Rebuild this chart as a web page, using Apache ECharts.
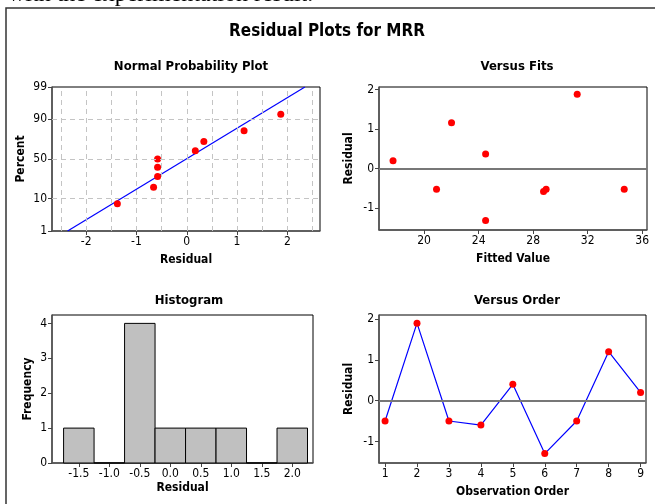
<!DOCTYPE html>
<html><head><meta charset="utf-8">
<script src="https://cdn.jsdelivr.net/npm/echarts@6/dist/echarts.min.js"></script>
<style>html,body{margin:0;padding:0;background:#fff;overflow:hidden}#c{width:655px;height:504px}</style>
</head><body><div id="c"></div>
<script>
// ---- Normal probability plot ----
const probResiduals = [-1.38, -0.66, -0.58, -0.58, -0.58, 0.17, 0.34, 1.14, 1.87];
const probPercents  = [7.4, 18.1, 28.7, 39.4, 50, 60.6, 71.3, 81.9, 92.6];
const fitLineResidual = [-2.37, 2.35];
const fitLinePercent  = [1, 99];
const percentTicks = [1, 10, 50, 90, 99];
const probXTicks = [-2, -1, 0, 1, 2];
const probXGrid = [-2.5, -2, -1.5, -1, -0.5, 0, 0.5, 1, 1.5, 2, 2.5];
const probYGrid = [10, 50, 90];

// ---- Versus fits ----
const fittedValues = [17.72, 20.91, 22.01, 24.51, 24.51, 28.76, 28.95, 31.23, 34.68];
const fitResiduals = [0.2, -0.52, 1.16, 0.37, -1.31, -0.58, -0.52, 1.88, -0.52];
const fitXTicks = [20, 24, 28, 32, 36];
const residTicks = [-1, 0, 1, 2];

// ---- Histogram ----
const histCenters = [-1.5, -1.0, -0.5, 0.0, 0.5, 1.0, 1.5, 2.0];
const histCounts  = [1, 0, 4, 1, 1, 1, 0, 1];
const histBinWidth = 0.5;
const histTicks = [-1.5, -1.0, -0.5, 0.0, 0.5, 1.0, 1.5, 2.0];
const freqTicks = [0, 1, 2, 3, 4];

// ---- Versus order ----
const orderIndex = [1, 2, 3, 4, 5, 6, 7, 8, 9];
const orderResiduals = [-0.5, 1.9, -0.5, -0.6, 0.4, -1.3, -0.5, 1.2, 0.2];

// inverse standard normal (probability-axis scale)
function probit(p) {
  const a=[-39.6968302866538,220.946098424521,-275.928510446969,138.357751867269,-30.6647980661472,2.50662827745924];
  const b=[-54.4760987982241,161.585836858041,-155.698979859887,66.8013118877197,-13.2806815528857];
  const c=[-0.00778489400243029,-0.322396458041136,-2.40075827716184,-2.54973253934373,4.37466414146497,2.93816398269878];
  const d=[0.00778469570904146,0.32246712907004,2.445134137143,3.75440866190742];
  const pl=0.02425;
  let q,r;
  if (p<pl){q=Math.sqrt(-2*Math.log(p));return (((((c[0]*q+c[1])*q+c[2])*q+c[3])*q+c[4])*q+c[5])/((((d[0]*q+d[1])*q+d[2])*q+d[3])*q+1);}
  if (p>1-pl){q=Math.sqrt(-2*Math.log(1-p));return -(((((c[0]*q+c[1])*q+c[2])*q+c[3])*q+c[4])*q+c[5])/((((d[0]*q+d[1])*q+d[2])*q+d[3])*q+1);}
  q=p-0.5;r=q*q;
  return (((((a[0]*r+a[1])*r+a[2])*r+a[3])*r+a[4])*r+a[5])*q/(((((b[0]*r+b[1])*r+b[2])*r+b[3])*r+b[4])*r+1);
}
const pz = v => probit(v/100);

const FONT = '"DejaVu Sans Condensed","Liberation Sans Narrow","DejaVu Sans",sans-serif';
const BOLD = '"DejaVu Sans Condensed","Liberation Sans Narrow","DejaVu Sans",sans-serif';
const lbl = (vals, fmt) => ({customValues: vals, color:'#000', fontSize:12, fontFamily:FONT, margin:5, formatter: fmt});
const tick = vals => ({show:true, customValues: vals, inside:false, length:4, lineStyle:{color:'#444', width:1}});
const axLine = {show:true, onZero:false, lineStyle:{color:'#555', width:1.5}};
const nameStyle = {color:'#000', fontSize:12, fontWeight:'bold', fontFamily:BOLD};
const gridDash = {type:[5,4], color:'#c4c4c4', width:1};
const dot = {color:'#ff0000', opacity:1};

function valAxis(gi, min, max, ticks, name, gap, fmt) {
  return {type:'value', gridIndex:gi, min:min, max:max, axisLine:axLine,
    axisTick:tick(ticks), axisLabel:lbl(ticks, fmt), splitLine:{show:false},
    name:name, nameLocation:'middle', nameGap:gap, nameTextStyle:nameStyle};
}

const zMin = pz(fitLinePercent[0]) , zMax = pz(fitLinePercent[1]);

const option = {
  animation:false,
  backgroundColor:'#fff',
  graphic:[
    {type:'rect', shape:{x:6, y:8, width:670, height:520}, style:{fill:null, stroke:'#333', lineWidth:1.5}, silent:true},
    {type:'text', x:8, y:7, style:{text:'with the experimentation result.', font:'24px "Liberation Serif", serif', fill:'#000', textVerticalAlign:'bottom'}},
    {type:'text', x:327, y:31, scaleX:0.94, style:{text:'Residual Plots for MRR', font:'bold 18px ' + BOLD, fill:'#000', textAlign:'center', textVerticalAlign:'middle'}}
  ],
  title:[
    {text:'Normal Probability Plot', left:186, textAlign:'center', top:55, textStyle:{fontSize:13, fontWeight:'bold', fontFamily:BOLD, color:'#000'}},
    {text:'Versus Fits', left:512, textAlign:'center', top:55, textStyle:{fontSize:13, fontWeight:'bold', fontFamily:BOLD, color:'#000'}},
    {text:'Histogram', left:184, textAlign:'center', top:289, textStyle:{fontSize:13, fontWeight:'bold', fontFamily:BOLD, color:'#000'}},
    {text:'Versus Order', left:512, textAlign:'center', top:289, textStyle:{fontSize:13, fontWeight:'bold', fontFamily:BOLD, color:'#000'}}
  ],
  grid:[
    {left:52, top:87, width:268, height:144, show:true, borderColor:'#000', borderWidth:1},
    {left:379, top:87, width:268, height:143, show:true, borderColor:'#000', borderWidth:1},
    {left:52, top:315, width:261, height:148, show:true, borderColor:'#000', borderWidth:1},
    {left:379, top:315, width:267, height:148, show:true, borderColor:'#000', borderWidth:1}
  ],
  xAxis:[
    valAxis(0, -2.68, 2.65, probXTicks, 'Residual', 23, v => String(v)),
    valAxis(1, 16.69, 36.35, fitXTicks, 'Fitted Value', 23, v => String(v)),
    valAxis(2, -1.94, 2.34, histTicks, 'Residual', 19, v => v.toFixed(1)),
    valAxis(3, 0.81, 9.17, orderIndex, 'Observation Order', 23, v => String(v))
  ],
  yAxis:[
    valAxis(0, zMin, zMax, percentTicks.map(pz), 'Percent', 25, v => {
      let best = percentTicks[0], bd = 1e9;
      percentTicks.forEach(p => { const d = Math.abs(pz(p) - v); if (d < bd) { bd = d; best = p; } });
      return String(best);
    }),
    valAxis(1, -1.55, 2.06, residTicks, 'Residual', 24, v => String(v)),
    valAxis(2, 0, 4.24, freqTicks, 'Frequency', 18, v => String(v)),
    valAxis(3, -1.53, 2.1, residTicks, 'Residual', 24, v => String(v))
  ],
  series:[
    {type:'line', xAxisIndex:0, yAxisIndex:0, z:1, symbol:'none', silent:true,
      data: fitLineResidual.map((x,i)=>[x, pz(fitLinePercent[i])]),
      lineStyle:{color:'#0000ff', width:1.2},
      markLine:{silent:true, symbol:['none','none'], label:{show:false}, lineStyle:gridDash, animation:false,
        data: probXGrid.map(v=>({xAxis:v})).concat(probYGrid.map(p=>({yAxis:pz(p)})))}
    },
    {type:'scatter', xAxisIndex:0, yAxisIndex:0, z:3, symbol:'circle', symbolSize:7,
      itemStyle:dot, data: probResiduals.map((x,i)=>[x, pz(probPercents[i])])},
    {type:'scatter', xAxisIndex:1, yAxisIndex:1, z:3, symbol:'circle', symbolSize:7,
      itemStyle:dot, data: fittedValues.map((x,i)=>[x, fitResiduals[i]]),
      markLine:{silent:true, symbol:['none','none'], label:{show:false}, lineStyle:{type:'solid', color:'#777', width:2}, data:[{yAxis:0}]}
    },
    {type:'custom', xAxisIndex:2, yAxisIndex:2, z:2,
      data: histCenters.map((c,i)=>[c, histCounts[i]]),
      renderItem:(params, api)=>{
        const c = api.value(0), n = api.value(1);
        const p0 = api.coord([c - histBinWidth/2, n]);
        const p1 = api.coord([c + histBinWidth/2, 0]);
        return {type:'rect', shape:{x:p0[0], y:p0[1], width:p1[0]-p0[0], height:p1[1]-p0[1]},
          style:{fill:'#c0c0c0', stroke:'#000', lineWidth:1}};
      }
    },
    {type:'line', xAxisIndex:3, yAxisIndex:3, z:3, symbol:'circle', symbolSize:7, showAllSymbol:true,
      data: orderIndex.map((x,i)=>[x, orderResiduals[i]]),
      lineStyle:{color:'#0000ff', width:1.2}, itemStyle:dot,
      markLine:{silent:true, symbol:['none','none'], label:{show:false}, lineStyle:{type:'solid', color:'#777', width:2}, data:[{yAxis:0}]}
    }
  ]
};
echarts.init(document.getElementById('c'), null, {renderer:'canvas'}).setOption(option);
</script>
</body></html>
